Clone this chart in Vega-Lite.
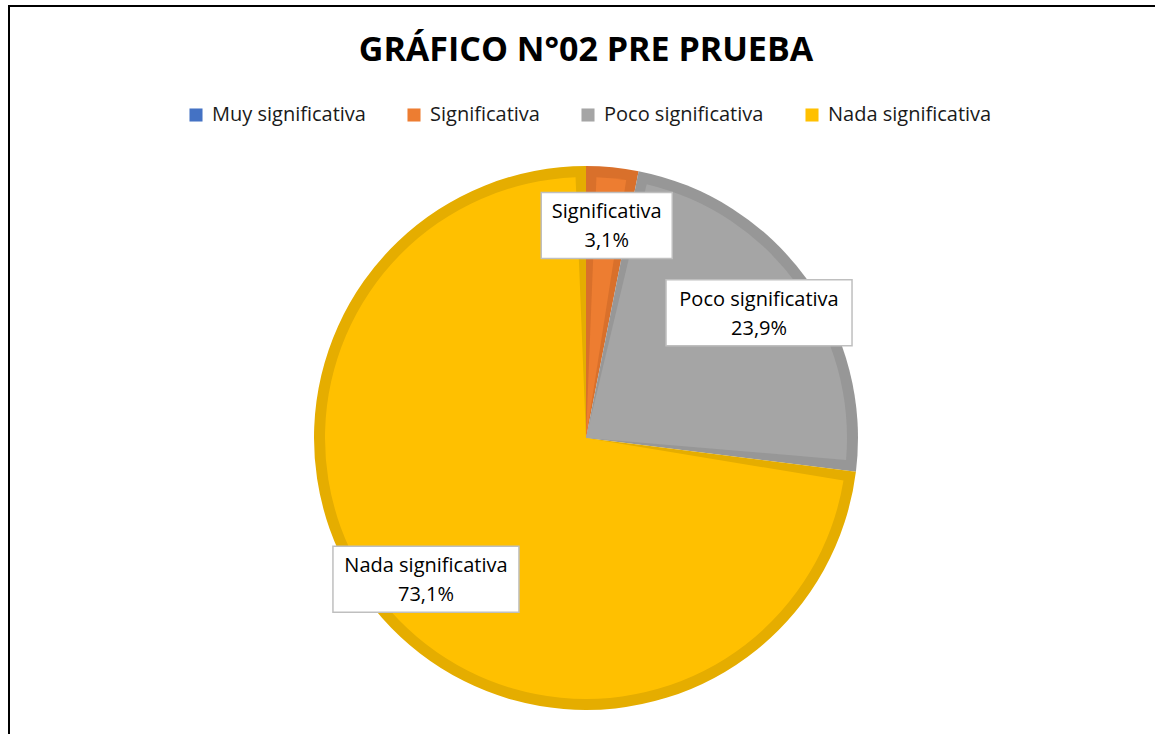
{
  "$schema": "https://vega.github.io/schema/vega-lite/v6.json",
  "width": 1154,
  "height": 864,
  "autosize": {"type": "none"},
  "padding": {"left": 9, "top": 6, "right": 0, "bottom": 0},
  "background": "white",
  "title": {
    "text": "GRÁFICO N°02 PRE PRUEBA",
    "anchor": "middle",
    "offset": -62,
    "fontSize": 34,
    "font": "Open Sans",
    "fontWeight": "bold",
    "color": "#000000"
  },
  "data": {
    "values": [
      {"categoria": "Muy significativa", "orden": 1, "porcentaje": 0},
      {"categoria": "Significativa", "orden": 2, "porcentaje": 3.1},
      {"categoria": "Poco significativa", "orden": 3, "porcentaje": 23.9},
      {"categoria": "Nada significativa", "orden": 4, "porcentaje": 73.1}
    ]
  },
  "resolve": {
    "scale": {"color": "independent", "fill": "independent"},
    "legend": {"color": "independent", "fill": "independent"}
  },
  "layer": [
    {
      "mark": {"type": "arc", "outerRadius": 272},
      "encoding": {
        "theta": {"field": "porcentaje", "type": "quantitative", "stack": true},
        "order": {"field": "orden", "type": "quantitative"},
        "fill": {
          "field": "categoria",
          "type": "nominal",
          "scale": {
            "domain": ["Muy significativa", "Significativa", "Poco significativa", "Nada significativa"],
            "range": ["#3A62AA", "#D9702B", "#979797", "#E5AD00"]
          },
          "legend": null
        }
      }
    },
    {
      "mark": {"type": "arc", "outerRadius": 261, "padAngle": 0.08},
      "encoding": {
        "theta": {"field": "porcentaje", "type": "quantitative", "stack": true},
        "order": {"field": "orden", "type": "quantitative"},
        "color": {
          "field": "categoria",
          "type": "nominal",
          "scale": {
            "domain": ["Muy significativa", "Significativa", "Poco significativa", "Nada significativa"],
            "range": ["#4472C4", "#ED7D31", "#A5A5A5", "#FFC000"]
          },
          "legend": {
            "title": null,
            "orient": "none",
            "direction": "horizontal",
            "legendX": 177,
            "legendY": 99,
            "symbolType": "square",
            "symbolSize": 170,
            "symbolStrokeWidth": 0,
            "symbolOpacity": 1,
            "labelFont": "Open Sans",
            "labelFontSize": 20,
            "labelColor": "#1a1a1a",
            "labelOffset": 6,
            "columnPadding": 38,
            "labelLimit": 300
          }
        }
      }
    },
    {
      "transform": [
        {"joinaggregate": [{"op": "sum", "field": "porcentaje", "as": "total"}]},
        {"window": [{"op": "sum", "field": "porcentaje", "as": "acum"}], "sort": [{"field": "orden"}], "frame": [null, 0]},
        {"calculate": "2*PI*(datum.acum - datum.porcentaje/2)/datum.total", "as": "ang"},
        {"calculate": "0.785*sin(datum.ang)", "as": "lx"},
        {"calculate": "0.785*cos(datum.ang)", "as": "ly"},
        {"calculate": "(11*length(datum.categoria) - 12)/544", "as": "hw"},
        {"calculate": "datum.lx - datum.hw", "as": "bx1"},
        {"calculate": "datum.lx + datum.hw", "as": "bx2"},
        {"calculate": "datum.ly - 33/272", "as": "by1"},
        {"calculate": "datum.ly + 33/272", "as": "by2"},
        {"calculate": "[datum.categoria, replace(format(datum.porcentaje, '.1f'), '.', ',') + '%']", "as": "etiqueta"},
        {"filter": "datum.porcentaje > 0"}
      ],
      "layer": [
        {
          "mark": {"type": "rect", "fill": "white", "stroke": "#BFBFBF", "strokeWidth": 1.5},
          "encoding": {
            "x": {"field": "bx1", "type": "quantitative", "scale": {"domain": [-2.1213, 2.1213], "nice": false, "zero": false}, "axis": null},
            "x2": {"field": "bx2"},
            "y": {"field": "by1", "type": "quantitative", "scale": {"domain": [-1.5882, 1.5882], "nice": false, "zero": false}, "axis": null},
            "y2": {"field": "by2"}
          }
        },
        {
          "mark": {"type": "text", "font": "Open Sans", "fontSize": 20, "color": "#000000", "align": "center", "baseline": "middle", "lineHeight": 29, "dy": -13},
          "encoding": {
            "x": {"field": "lx", "type": "quantitative"},
            "y": {"field": "ly", "type": "quantitative"},
            "text": {"field": "etiqueta"}
          }
        }
      ]
    }
  ],
  "config": {
    "view": {"stroke": "#000000", "strokeWidth": 2}
  }
}
